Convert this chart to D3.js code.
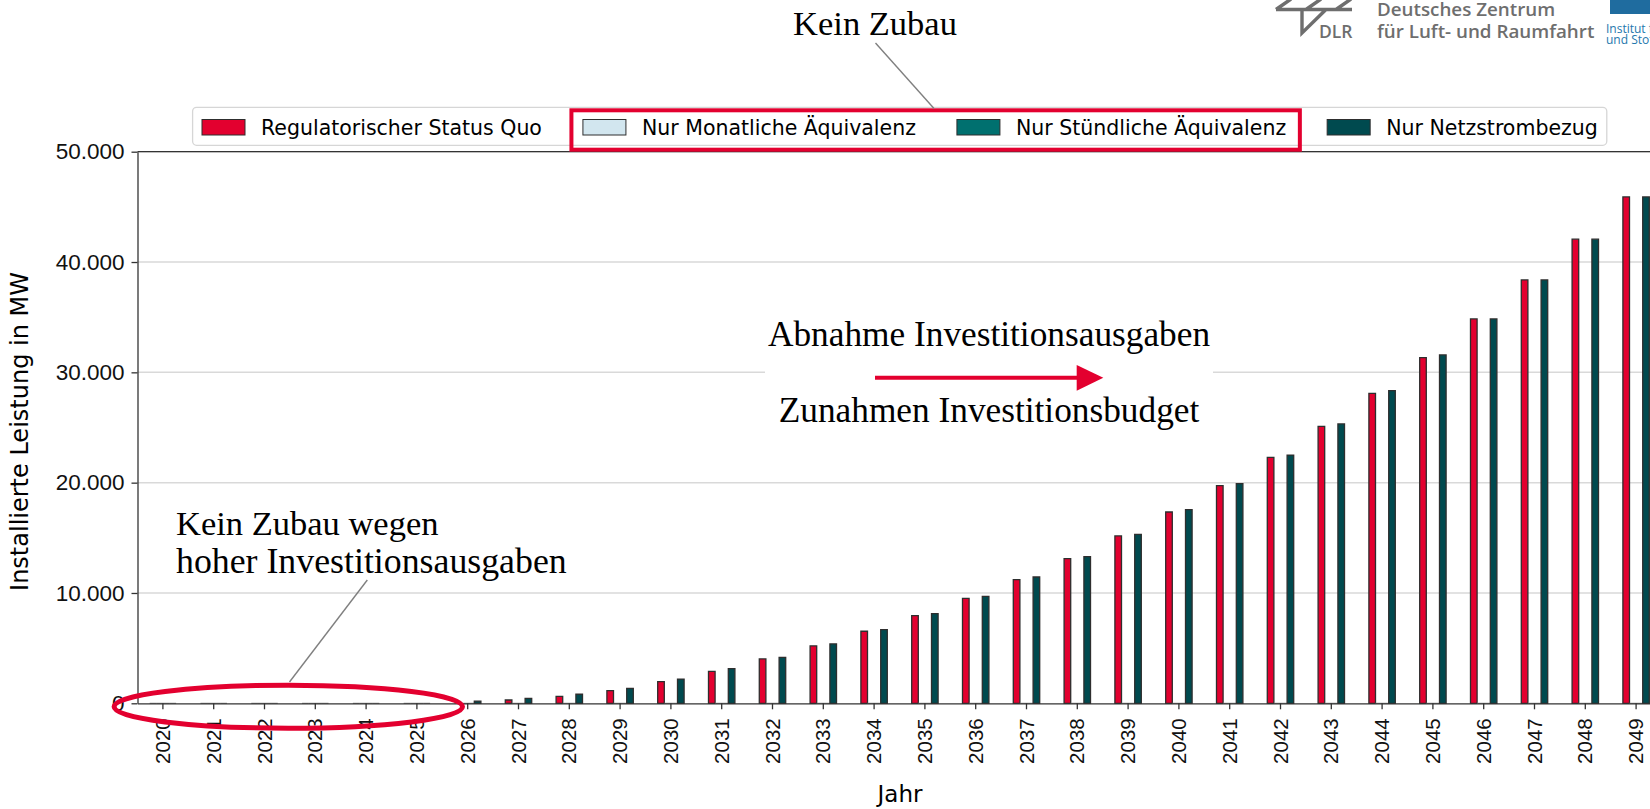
<!DOCTYPE html>
<html>
<head>
<meta charset="utf-8">
<script src="https://cdn.jsdelivr.net/npm/d3@7"></script>
<style>
  body { margin: 0; background: #fff; }
  svg { display: block; }
</style>
</head>
<body>
<div id="chart"></div>
<script>
// Installierte Leistung je Jahr und Szenario

var years = ['2020', '2021', '2022', '2023', '2024', '2025', '2026', '2027', '2028', '2029',
	'2030', '2031', '2032', '2033', '2034', '2035', '2036', '2037', '2038', '2039',
	'2040', '2041', '2042', '2043', '2044', '2045', '2046', '2047', '2048', '2049'];

var statusQuo = [0, 0, 0, 0, 0, 0, 0, 300, 630, 1140,
	1960, 2900, 4020, 5200, 6530, 7940, 9520, 11210, 13110, 15170,
	17340, 19730, 22300, 25110, 28100, 31330, 34840, 38380, 42070, 45900];

var monatlich = [0, 0, 0, 0, 0, 0, 0, 0, 0, 0,
	0, 0, 0, 0, 0, 0, 0, 0, 0, 0,
	0, 0, 0, 0, 0, 0, 0, 0, 0, 0];

var stuendlich = [0, 0, 0, 0, 0, 0, 0, 0, 0, 0,
	0, 0, 0, 0, 0, 0, 0, 0, 0, 0,
	0, 0, 0, 0, 0, 0, 0, 0, 0, 0];

var netzstrom = [0, 0, 0, 0, 0, 0, 200, 450, 820, 1360,
	2200, 3140, 4170, 5380, 6670, 8120, 9700, 11450, 13290, 15320,
	17550, 19910, 22500, 25320, 28340, 31580, 34840, 38380, 42070, 45900];

var seriesNames = ['Regulatorischer Status Quo', 'Nur Monatliche Äquivalenz',
	'Nur Stündliche Äquivalenz', 'Nur Netzstrombezug'];
var seriesColors = ['#e3002f', '#d2e6ef', '#00706f', '#004a4f'];
var yTicks = [0, 10000, 20000, 30000, 40000, 50000];

var chartW = 1650,
	chartH = 809,
	plotLeft = 137.5,
	plotTop = 151.7,
	plotBottom = 703.3,
	step = 50.8,
	red = '#e3002f';

var de = d3.formatLocale({decimal: ',', thousands: '.', grouping: [3], currency: ['', ' €']});
var fmt = de.format(',.0f');

var svg = d3.select('#chart').append('svg')
	.attr('width', chartW)
	.attr('height', chartH)
	.style('font-family', 'DejaVu Sans');

svg.append('rect').attr('width', chartW).attr('height', chartH).attr('fill', '#fff');

var x = d3.scaleBand()
	.domain(years)
	.range([plotLeft, plotLeft + years.length * step]);

var y = d3.scaleLinear()
	.domain([0, 50000])
	.range([plotBottom, plotTop]);

// grid
svg.append('g').selectAll('line')
	.data(yTicks.slice(1))
	.enter().append('line')
	.attr('x1', plotLeft).attr('x2', chartW)
	.attr('y1', function(d) { return y(d); })
	.attr('y2', function(d) { return y(d); })
	.attr('stroke', '#d9d9d9')
	.attr('stroke-width', 1.5);

// bars, 4 per year
var allSeries = [statusQuo, monatlich, stuendlich, netzstrom];
var slot = x.bandwidth() * 0.13;
var barData = [];
allSeries.forEach(function(vals, s) {
	vals.forEach(function(v, i) {
		barData.push({year: years[i], value: v, s: s});
	});
});

svg.append('g').selectAll('path')
	.data(barData)
	.enter().append('path')
	.attr('d', function(d) {
		var x0 = x(d.year) + x.bandwidth() / 2 + (d.s - 2) * slot,
			x1 = x0 + slot,
			y0 = y(0),
			y1 = y(d.value);
		return 'M' + x0 + ',' + y0 + 'V' + y1 + 'H' + x1 + 'V' + y0 + 'Z';
	})
	.attr('fill', function(d) { return seriesColors[d.s]; })
	.attr('stroke', function(d) { return d.value > 0 ? '#2e2e2e' : '#8a8a8a'; })
	.attr('stroke-width', 1.3);

// axes
var yAxis = svg.append('g')
	.attr('transform', 'translate(' + plotLeft + ',0)')
	.call(d3.axisLeft(y).tickValues(yTicks).tickFormat(fmt).tickSize(6).tickSizeOuter(0).tickPadding(7));
yAxis.selectAll('text').style('font-size', '22.5px').attr('fill', '#111');

var xAxis = svg.append('g')
	.attr('transform', 'translate(0,' + plotBottom + ')')
	.call(d3.axisBottom(x).tickSize(6).tickSizeOuter(0));
xAxis.selectAll('text')
	.attr('transform', 'rotate(-90)')
	.attr('x', -15)
	.attr('y', 0)
	.attr('dy', '0.35em')
	.style('text-anchor', 'end')
	.style('font-size', '20.5px')
	.attr('fill', '#111');

svg.selectAll('.domain').attr('stroke', '#333').attr('stroke-width', 1.3);
svg.selectAll('.tick line').attr('stroke', '#333').attr('stroke-width', 1.3);

// top spine
svg.append('line')
	.attr('x1', plotLeft).attr('x2', chartW)
	.attr('y1', plotTop).attr('y2', plotTop)
	.attr('stroke', '#333').attr('stroke-width', 1.3);

// axis titles
svg.append('text')
	.attr('x', 900).attr('y', 802)
	.attr('text-anchor', 'middle')
	.style('font-size', '23px')
	.text('Jahr');

svg.append('text')
	.attr('transform', 'translate(28,' + ((plotTop + plotBottom) / 2 + 4) + ') rotate(-90)')
	.attr('text-anchor', 'middle')
	.style('font-size', '24px')
	.text('Installierte Leistung in MW');

// legend
var legend = svg.append('g');
var legendBox = legend.append('rect')
	.attr('x', 192.6).attr('y', 107.3)
	.attr('height', 38)
	.attr('rx', 4)
	.attr('fill', '#fff')
	.attr('stroke', '#d6d6d6')
	.attr('stroke-width', 1.3);

var lx = 202, itemPos = [];
seriesNames.forEach(function(name, i) {
	legend.append('rect')
		.attr('x', lx).attr('y', 119.5)
		.attr('width', 43).attr('height', 15.5)
		.attr('fill', seriesColors[i])
		.attr('stroke', '#2e2e2e').attr('stroke-width', 1);
	var t = legend.append('text')
		.attr('x', lx + 59).attr('y', 134.5)
		.style('font-size', '20.5px')
		.text(name);
	var w = t.node().getComputedTextLength();
	itemPos.push({x: lx, end: lx + 59 + w});
	lx = lx + 59 + w + 41;
});
legendBox.attr('width', itemPos[3].end + 9 - 192.6);

// highlight of the two zero scenarios
svg.append('rect')
	.attr('x', itemPos[1].x - 11.5).attr('y', 110.3)
	.attr('width', itemPos[2].end + 13.7 - (itemPos[1].x - 11.5))
	.attr('height', 39.4)
	.attr('fill', 'none')
	.attr('stroke', red)
	.attr('stroke-width', 4);

// annotations
var serif = 'Liberation Serif';

svg.append('line')
	.attr('x1', 875.5).attr('y1', 43).attr('x2', 934).attr('y2', 108.5)
	.attr('stroke', '#808080').attr('stroke-width', 1.4);

svg.append('text')
	.attr('x', 875).attr('y', 34.5)
	.attr('text-anchor', 'middle')
	.style('font-family', serif).style('font-size', '34.5px')
	.text('Kein Zubau');

svg.append('rect')
	.attr('x', 765).attr('y', 316)
	.attr('width', 448).attr('height', 116)
	.attr('fill', '#fff');

svg.append('text')
	.attr('x', 989).attr('y', 346)
	.attr('text-anchor', 'middle')
	.style('font-family', serif).style('font-size', '35.3px')
	.text('Abnahme Investitionsausgaben');

svg.append('text')
	.attr('x', 989).attr('y', 421.7)
	.attr('text-anchor', 'middle')
	.style('font-family', serif).style('font-size', '35.3px')
	.text('Zunahmen Investitionsbudget');

svg.append('line')
	.attr('x1', 875).attr('y1', 377.8).attr('x2', 1078).attr('y2', 377.8)
	.attr('stroke', red).attr('stroke-width', 4);
svg.append('path')
	.attr('d', 'M1076.7,365L1103.3,377.8L1076.7,390.7Z')
	.attr('fill', red);

svg.append('text')
	.attr('x', 176).attr('y', 534.6)
	.style('font-family', serif).style('font-size', '34.5px')
	.text('Kein Zubau wegen');
svg.append('text')
	.attr('x', 176).attr('y', 573.4)
	.style('font-family', serif).style('font-size', '35.8px')
	.text('hoher Investitionsausgaben');

svg.append('line')
	.attr('x1', 367.3).attr('y1', 580).attr('x2', 289.5).attr('y2', 682)
	.attr('stroke', '#808080').attr('stroke-width', 1.4);

svg.append('ellipse')
	.attr('cx', 288.3).attr('cy', 706.7)
	.attr('rx', 174.2).attr('ry', 21.5)
	.attr('fill', 'none')
	.attr('stroke', red)
	.attr('stroke-width', 5);

// logo corner
var logo = svg.append('g');
logo.append('path')
	.attr('d', 'M1276,9.5H1352M1276,9.5L1291,-1M1306,9.5L1321,-1M1336,9.5L1351,-1M1302,9.5V33L1326,9.5')
	.attr('fill', 'none')
	.attr('stroke', '#6e6e6e')
	.attr('stroke-width', 3.4);
logo.append('text')
	.attr('x', 1319).attr('y', 37.5)
	.style('font-family', 'Open Sans').style('font-weight', 600).style('font-size', '17.5px')
	.attr('fill', '#6e6e6e')
	.text('DLR');
logo.append('text')
	.attr('x', 1377).attr('y', 16)
	.style('font-family', 'Open Sans').style('font-weight', 600).style('font-size', '18.8px')
	.attr('fill', '#6e6e6e')
	.text('Deutsches Zentrum');
logo.append('text')
	.attr('x', 1377).attr('y', 38)
	.style('font-family', 'Open Sans').style('font-weight', 600).style('font-size', '18.8px')
	.attr('fill', '#6e6e6e')
	.text('für Luft- und Raumfahrt');
logo.append('rect')
	.attr('x', 1610).attr('y', 0).attr('width', 40).attr('height', 14)
	.attr('fill', '#1f6c9f');
logo.append('text')
	.attr('x', 1606).attr('y', 33)
	.style('font-family', 'Open Sans').style('font-size', '12px')
	.attr('fill', '#2577ad')
	.text('Institut für');
logo.append('text')
	.attr('x', 1606).attr('y', 44)
	.style('font-family', 'Open Sans').style('font-size', '12px')
	.attr('fill', '#2577ad')
	.text('und Stoffe');
</script>
</body>
</html>
